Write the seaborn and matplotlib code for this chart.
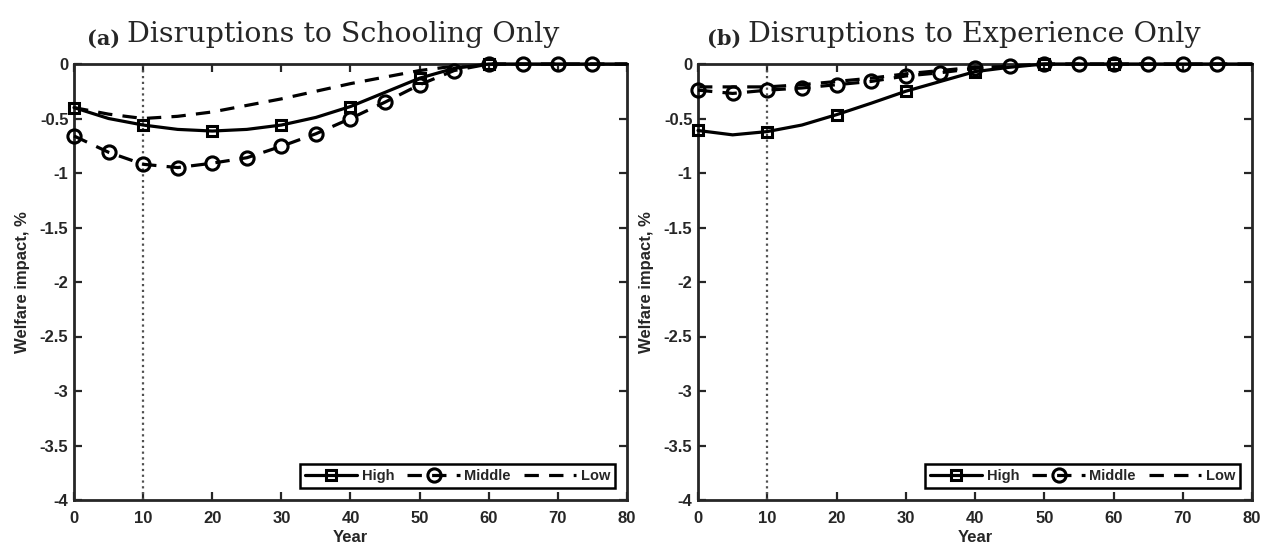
import numpy as np
import pandas as pd
import matplotlib
matplotlib.use("Agg")
import matplotlib.pyplot as plt
import seaborn as sns
from matplotlib.lines import Line2D

sns.set_style("ticks")
plt.rcParams['font.family'] = ['Liberation Sans', 'DejaVu Sans']

years = [0, 5, 10, 15, 20, 25, 30, 35, 40, 45, 50, 55, 60, 65, 70, 75, 80]

# Panel (a): disruptions to schooling only
a_high = [-0.40, -0.50, -0.56, -0.60, -0.615, -0.60, -0.56, -0.49, -0.39, -0.26, -0.13, -0.04, 0, 0, 0, 0, 0]
a_middle = [-0.66, -0.81, -0.92, -0.95, -0.91, -0.86, -0.755, -0.64, -0.50, -0.35, -0.19, -0.06, 0, 0, 0, 0, 0]
a_low = [-0.40, -0.46, -0.50, -0.48, -0.44, -0.38, -0.32, -0.25, -0.18, -0.12, -0.06, -0.02, 0, 0, 0, 0, 0]

# Panel (b): disruptions to experience only
b_high = [-0.61, -0.65, -0.62, -0.56, -0.465, -0.36, -0.25, -0.16, -0.07, -0.03, 0, 0, 0, 0, 0, 0, 0]
b_middle = [-0.24, -0.27, -0.24, -0.22, -0.19, -0.16, -0.11, -0.08, -0.04, -0.02, 0, 0, 0, 0, 0, 0, 0]
b_low = [-0.21, -0.21, -0.21, -0.19, -0.16, -0.13, -0.09, -0.06, -0.03, -0.01, 0, 0, 0, 0, 0, 0, 0]

titles_bold = ["(a)", "(b)"]
titles = ["Disruptions to Schooling Only", "Disruptions to Experience Only"]
series_names = ["High", "Middle", "Low"]
xticks = [0, 10, 20, 30, 40, 50, 60, 70, 80]
yticks = [0, -0.5, -1, -1.5, -2, -2.5, -3, -3.5, -4]
ytick_labels = ["0", "-0.5", "-1", "-1.5", "-2", "-2.5", "-3", "-3.5", "-4"]

fig = plt.figure(figsize=(12.66, 5.52), dpi=100)
axes = [fig.add_axes([74/1266, 52/552, 553/1266, 436/552]),
        fig.add_axes([698/1266, 52/552, 554/1266, 436/552])]
title_x = [0.0235, 0.016]

panels = [(a_high, a_middle, a_low), (b_high, b_middle, b_low)]
dash = (0, (4.5, 3.2))
spine_c = "#262626"
serif = ["DejaVu Serif", "Liberation Serif"]

for i, (ax, (hi, mid, lo)) in enumerate(zip(axes, panels)):
    df = pd.DataFrame({"Year": years, "High": hi, "Middle": mid, "Low": lo})
    ax.axvline(10, color="#505050", linestyle=(0, (1, 1.6)), lw=1.6, zorder=1)
    sns.lineplot(data=df, x="Year", y="Low", ax=ax, color="black", lw=2.3,
                 linestyle=dash, zorder=2)
    sns.lineplot(data=df, x="Year", y="Middle", ax=ax, color="black", lw=2.3,
                 linestyle=dash, marker="o", markevery=slice(0, 16),
                 markersize=9.5, markerfacecolor="none", markeredgecolor="black",
                 markeredgewidth=2.2, zorder=3, clip_on=False)
    sns.lineplot(data=df, x="Year", y="High", ax=ax, color="black", lw=2.3,
                 linestyle="-", marker="s", markevery=slice(0, 13, 2),
                 markersize=7.5, markerfacecolor="none", markeredgecolor="black",
                 markeredgewidth=2.2, zorder=4, clip_on=False)
    ax.set_xlim(0, 80)
    ax.set_ylim(-4, 0)
    ax.set_xticks(xticks)
    ax.set_xticklabels([str(t) for t in xticks])
    ax.set_yticks(yticks)
    ax.set_yticklabels(ytick_labels)
    ax.tick_params(direction="in", length=6, width=1.6, top=True, right=True,
                   labelsize=12, colors=spine_c)
    ax.tick_params(axis="x", pad=8)
    ax.tick_params(axis="y", pad=4)
    for lab in ax.get_xticklabels() + ax.get_yticklabels():
        lab.set_fontweight("bold")
        lab.set_color(spine_c)
    for s in ax.spines.values():
        s.set_linewidth(2.0)
        s.set_color(spine_c)
        s.set_visible(True)
    ax.set_xlabel("Year", fontsize=12, fontweight="bold", color=spine_c, labelpad=3)
    ax.set_ylabel("Welfare impact, %", fontsize=12, fontweight="bold", color=spine_c, labelpad=7)

    handles = [
        Line2D([], [], color="black", lw=2.3, marker="s", markersize=7.5,
               markerfacecolor="none", markeredgewidth=2.2),
        Line2D([], [], color="black", lw=2.3, linestyle=dash, marker="o", markersize=9.5,
               markerfacecolor="none", markeredgewidth=2.2),
        Line2D([], [], color="black", lw=2.3, linestyle=dash),
    ]
    leg = ax.legend(handles, series_names, loc="lower right", ncol=3,
                    frameon=True, fancybox=False, framealpha=1, edgecolor="black",
                    prop={"weight": "bold", "size": 10.5}, handlelength=3.6,
                    handletextpad=0.3, columnspacing=0.9, borderpad=0.35,
                    borderaxespad=0.8)
    leg.get_frame().set_linewidth(1.8)

    t1 = ax.text(title_x[i], 1.045, titles_bold[i], transform=ax.transAxes,
                 fontsize=15, fontweight="bold", family=serif,
                 ha="left", va="baseline")
    ax.annotate(titles[i], xy=(1, 0), xycoords=t1, xytext=(7, 0),
                textcoords="offset pixels", fontsize=20.5,
                family=serif, ha="left", va="bottom")

fig.savefig("out.png", dpi=100)
